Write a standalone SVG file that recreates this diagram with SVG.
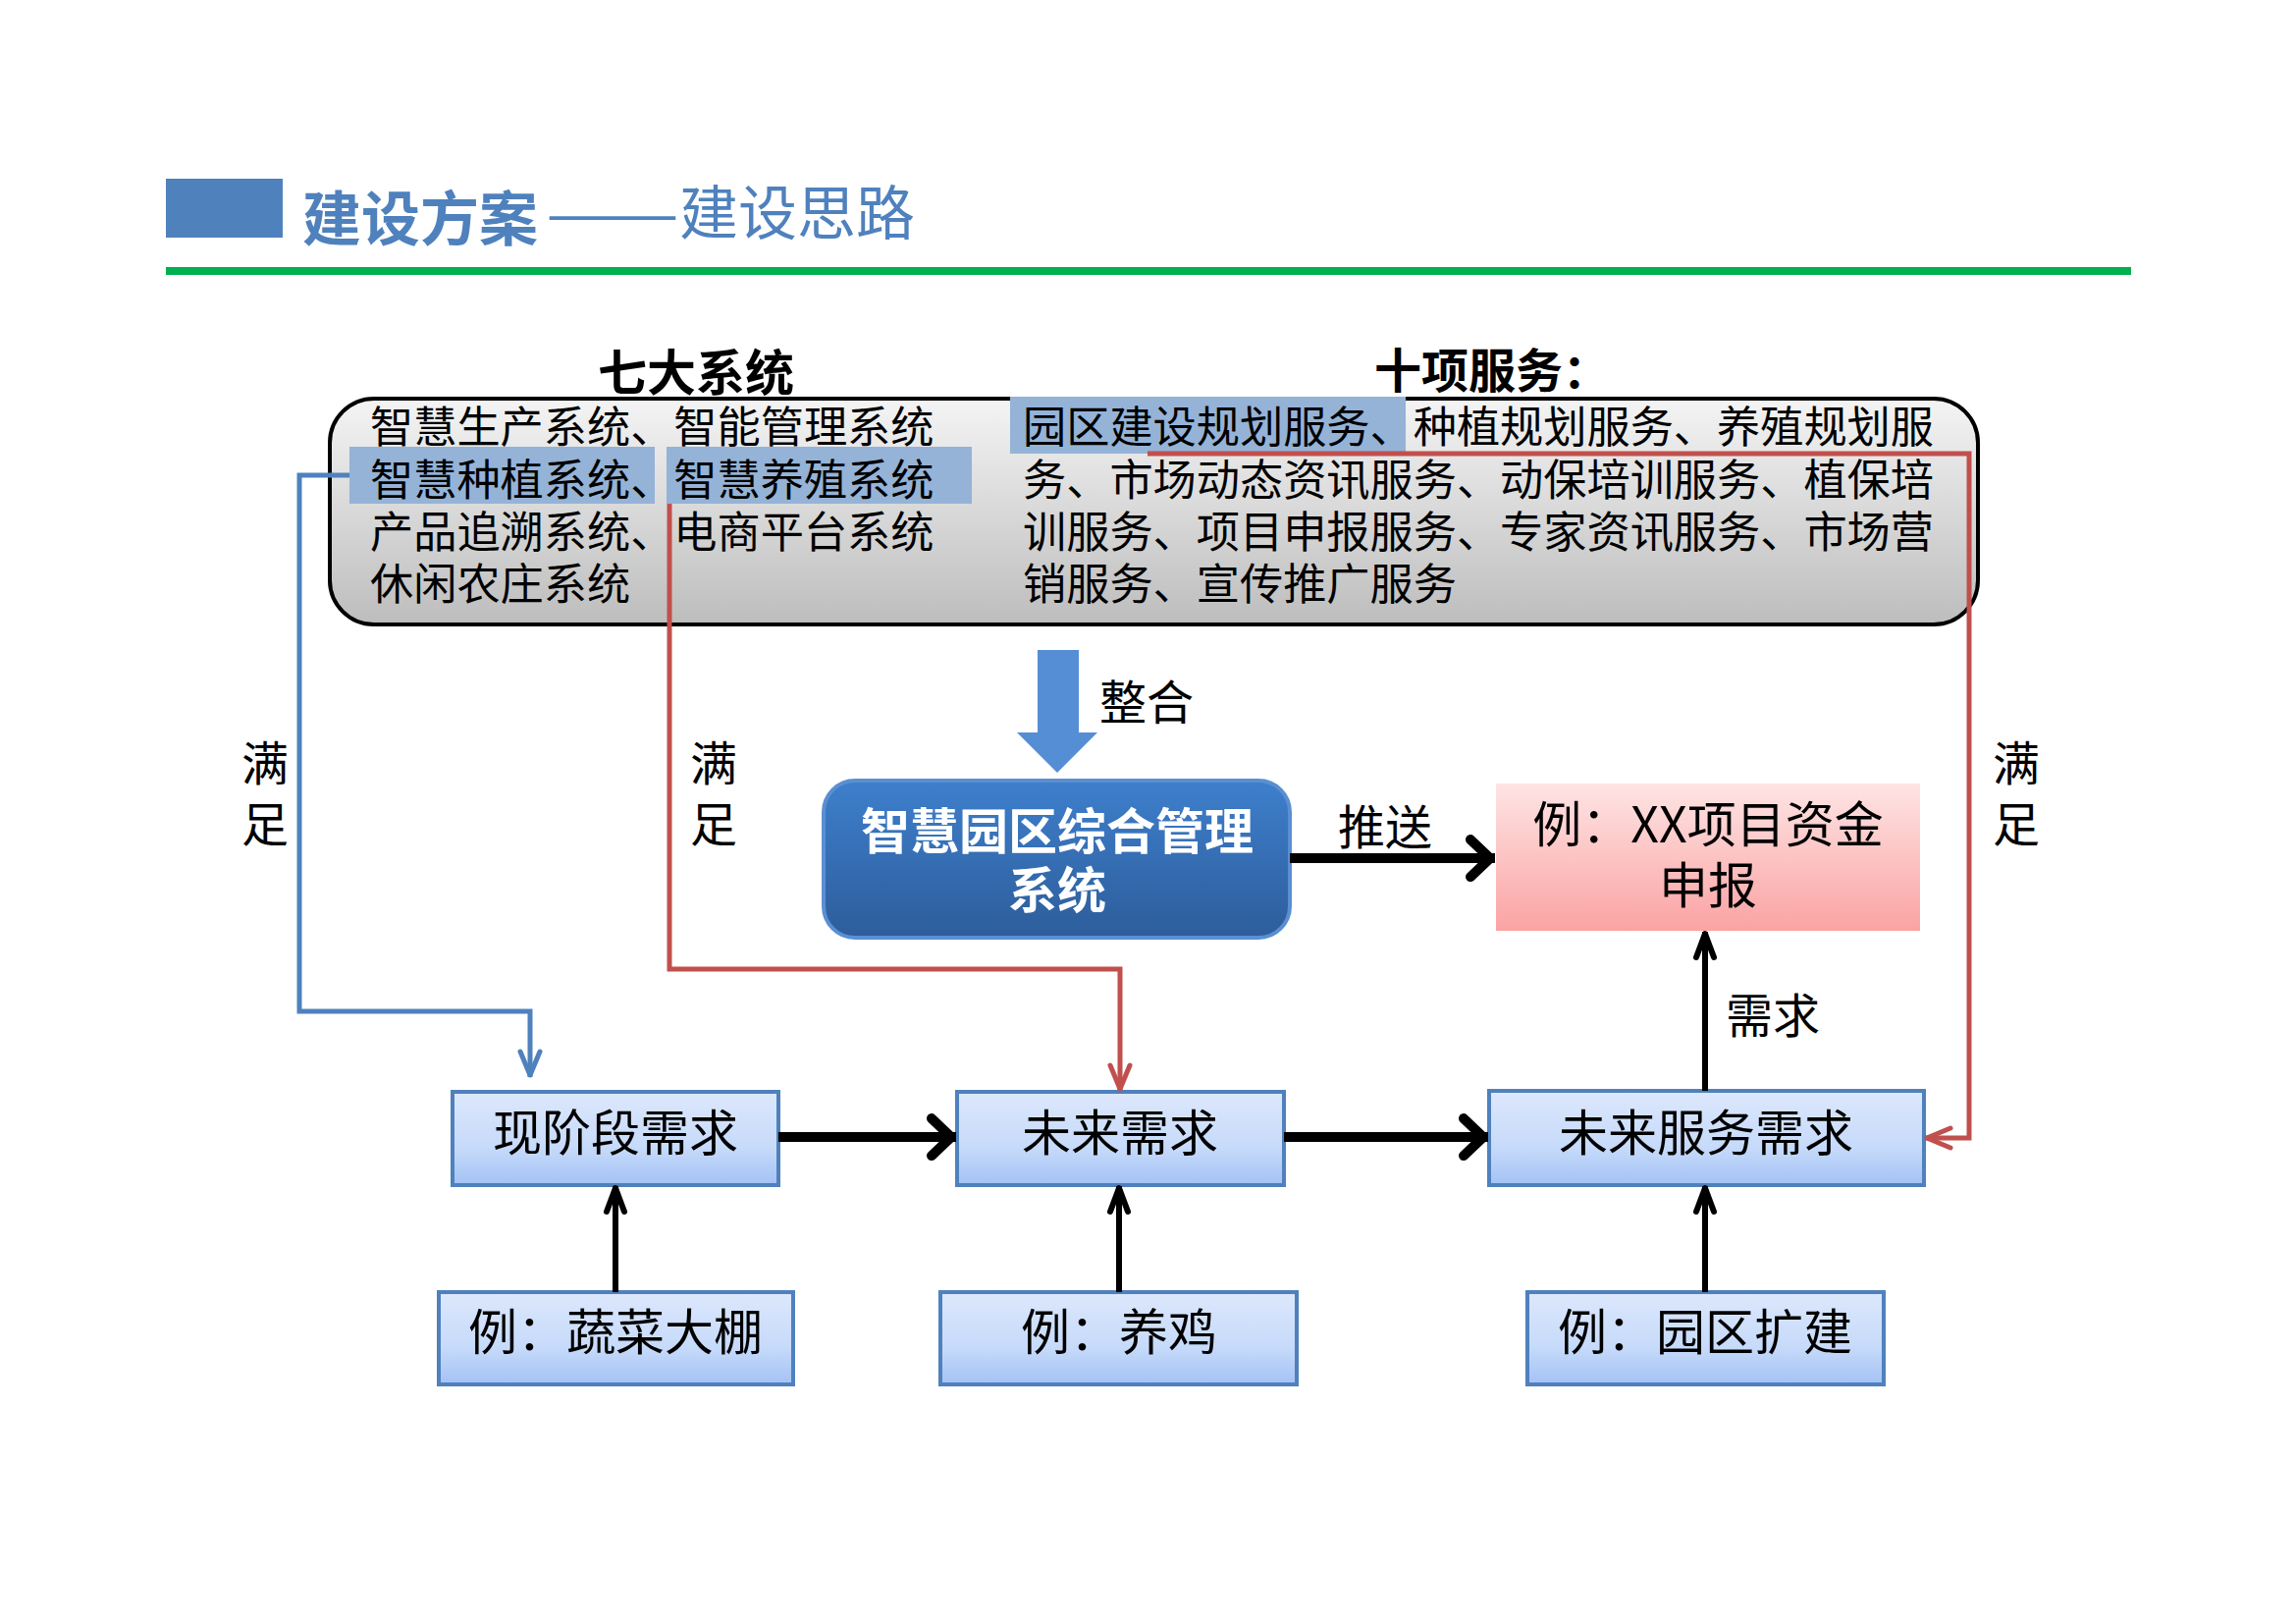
<svg xmlns="http://www.w3.org/2000/svg" width="2339" height="1654" viewBox="0 0 2339 1654">
<style>
text{font-family:"Noto Sans CJK SC","Noto Sans",sans-serif;fill:#000}
.body{font-size:44.2px}
.lbl{font-size:48px}
.box{stroke:#4F81BD;stroke-width:4;fill:url(#gBox)}
.bt{font-size:50px;text-anchor:middle}
.hl{fill:#95B3D7}
.thick{stroke:#000;stroke-width:10;fill:none}
.thin{stroke:#000;stroke-width:6;fill:none}
.blue{stroke:#4F81BD;stroke-width:5;fill:none}
.red{stroke:#C0504D;stroke-width:5;fill:none}
</style>
<defs>
<linearGradient id="gTop" x1="0" y1="0" x2="0" y2="1"><stop offset="0" stop-color="#F4F4F4"/><stop offset="1" stop-color="#BDBDBD"/></linearGradient>
<linearGradient id="gBox" x1="0" y1="0" x2="0" y2="1"><stop offset="0" stop-color="#DDE8FC"/><stop offset="0.6" stop-color="#C6DAFA"/><stop offset="1" stop-color="#A3C2F5"/></linearGradient>
<linearGradient id="gCen" x1="0" y1="0" x2="0" y2="1"><stop offset="0" stop-color="#3E7FCC"/><stop offset="1" stop-color="#2D5D9B"/></linearGradient>
<linearGradient id="gPink" x1="0" y1="0" x2="0" y2="1"><stop offset="0" stop-color="#FEE4E4"/><stop offset="1" stop-color="#FBA3A3"/></linearGradient>
<marker id="mThick" markerUnits="userSpaceOnUse" viewBox="-40 -30 50 60" refX="0" refY="0" markerWidth="50" markerHeight="60" orient="auto"><path d="M-25,-19 L-5,0 L-25,19" fill="none" stroke="#000" stroke-width="10" stroke-linecap="round" stroke-linejoin="round"/></marker>
<marker id="mThin" markerUnits="userSpaceOnUse" viewBox="-40 -20 50 40" refX="0" refY="0" markerWidth="50" markerHeight="40" orient="auto"><path d="M-26,-9 L-2,0 L-26,9" fill="none" stroke="#000" stroke-width="6" stroke-linecap="round" stroke-linejoin="round"/></marker>
<marker id="mBlue" markerUnits="userSpaceOnUse" viewBox="-40 -20 50 40" refX="0" refY="0" markerWidth="50" markerHeight="40" orient="auto"><path d="M-26,-10 L-2,0 L-26,10" fill="none" stroke="#4F81BD" stroke-width="5" stroke-linecap="round" stroke-linejoin="round"/></marker>
<marker id="mRed" markerUnits="userSpaceOnUse" viewBox="-40 -20 50 40" refX="0" refY="0" markerWidth="50" markerHeight="40" orient="auto"><path d="M-26,-10 L-2,0 L-26,10" fill="none" stroke="#C0504D" stroke-width="5" stroke-linecap="round" stroke-linejoin="round"/></marker>
</defs>
<rect width="2339" height="1654" fill="#fff"/>
<g id="header">
<rect x="169" y="182" width="119" height="60" fill="#4F81BD"/>
<text x="308" y="245" style="font-size:60px;font-weight:bold;fill:#4F81BD">建设方案</text>
<text x="556" y="239" textLength="136" lengthAdjust="spacingAndGlyphs" style="font-size:60px;fill:#4F81BD">——</text>
<text x="692" y="239" style="font-size:60px;fill:#4F81BD">建设思路</text>
<rect x="169" y="272" width="2002" height="8" fill="#00B050"/>
</g>
<g id="top-box">
<text x="709" y="398" text-anchor="middle" style="font-size:50px;font-weight:bold">七大系统</text>
<text x="1400" y="395" style="font-size:48px;font-weight:bold">十项服务：</text>
<rect x="336" y="406" width="1679" height="230" rx="45" fill="url(#gTop)" stroke="#000" stroke-width="4"/>
<rect class="hl" x="356" y="455" width="311" height="58"/>
<rect class="hl" x="679" y="455" width="311" height="58"/>
<rect class="hl" x="1029" y="404" width="403" height="58"/>
<text class="body" x="377" y="451">智慧生产系统、智能管理系统</text>
<text class="body" x="377" y="505">智慧种植系统、智慧养殖系统</text>
<text class="body" x="377" y="558">产品追溯系统、电商平台系统</text>
<text class="body" x="377" y="611">休闲农庄系统</text>
<text class="body" x="1042" y="451">园区建设规划服务、种植规划服务、养殖规划服</text>
<text class="body" x="1042" y="505">务、市场动态资讯服务、动保培训服务、植保培</text>
<text class="body" x="1042" y="558">训服务、项目申报服务、专家资讯服务、市场营</text>
<text class="body" x="1042" y="611">销服务、宣传推广服务</text>
</g>
<g id="integrate">
<path d="M1057,662 H1099 V746 H1118 L1077,787 L1036,746 H1057 Z" fill="#558ED5"/>
<text class="lbl" x="1120" y="733">整合</text>
</g>
<g id="central">
<rect x="839" y="795" width="475" height="160" rx="32" fill="url(#gCen)" stroke="#5A8FD2" stroke-width="4"/>
<text x="1077" y="865" text-anchor="middle" style="font-size:50px;font-weight:bold;fill:#fff">智慧园区综合管理</text>
<text x="1077" y="925" text-anchor="middle" style="font-size:50px;font-weight:bold;fill:#fff">系统</text>
</g>
<g id="pink">
<rect x="1524" y="798" width="432" height="150" fill="url(#gPink)"/>
<text class="bt" x="1740" y="858">例：XX项目资金</text>
<text class="bt" x="1740" y="920">申报</text>
</g>
<g id="now-need"><rect class="box" x="461" y="1112" width="332" height="95"/><text class="bt" x="627" y="1172">现阶段需求</text></g>
<g id="future-need"><rect class="box" x="975" y="1112" width="333" height="95"/><text class="bt" x="1141" y="1172">未来需求</text></g>
<g id="future-service"><rect class="box" x="1517" y="1111" width="443" height="96"/><text class="bt" x="1738" y="1172">未来服务需求</text></g>
<g id="ex-veg"><rect class="box" x="447" y="1316" width="361" height="94"/><text class="bt" x="627" y="1375">例：蔬菜大棚</text></g>
<g id="ex-chicken"><rect class="box" x="958" y="1316" width="363" height="94"/><text class="bt" x="1140" y="1375">例：养鸡</text></g>
<g id="ex-expand"><rect class="box" x="1556" y="1316" width="363" height="94"/><text class="bt" x="1737" y="1375">例：园区扩建</text></g>
<g id="connectors">
<path class="blue" d="M356,484 H305 V1030 H540 V1097" marker-end="url(#mBlue)"/>
<path class="red" d="M682,513 V987 H1141 V1111" marker-end="url(#mRed)"/>
<path class="red" d="M1169,462 H2006 V1159 H1961" marker-end="url(#mRed)"/>
<path class="thick" d="M1314,874 H1523" marker-end="url(#mThick)"/>
<path class="thick" d="M793,1158 H974" marker-end="url(#mThick)"/>
<path class="thick" d="M1308,1158 H1516" marker-end="url(#mThick)"/>
<path class="thin" d="M627,1316 V1208" marker-end="url(#mThin)"/>
<path class="thin" d="M1140,1316 V1208" marker-end="url(#mThin)"/>
<path class="thin" d="M1737,1316 V1208" marker-end="url(#mThin)"/>
<path class="thin" d="M1737,1111 V949" marker-end="url(#mThin)"/>
<text class="lbl" x="1363" y="860">推送</text>
<text class="lbl" x="1758" y="1052">需求</text>
<text class="lbl" x="270" y="795" text-anchor="middle">满</text>
<text class="lbl" x="270" y="857" text-anchor="middle">足</text>
<text class="lbl" x="727" y="795" text-anchor="middle">满</text>
<text class="lbl" x="727" y="857" text-anchor="middle">足</text>
<text class="lbl" x="2054" y="795" text-anchor="middle">满</text>
<text class="lbl" x="2054" y="857" text-anchor="middle">足</text>
</g>
</svg>
